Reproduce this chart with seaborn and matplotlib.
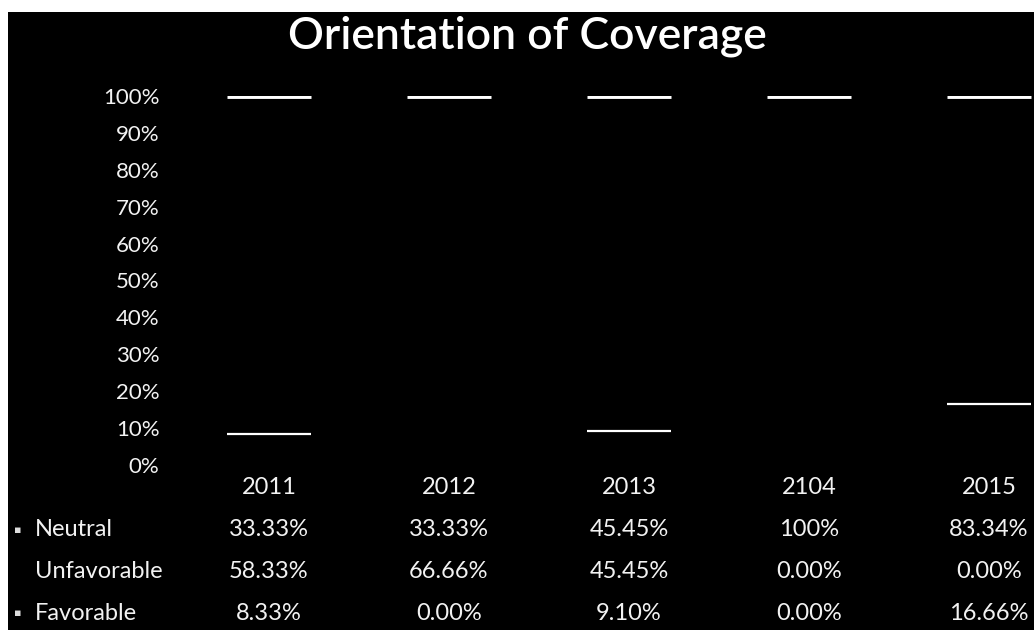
import matplotlib
matplotlib.use("Agg")
import matplotlib.pyplot as plt
import matplotlib.transforms as mtransforms
from matplotlib.patches import Rectangle
import seaborn as sns
import pandas as pd

# ---------------- data ----------------
years = ["2011", "2012", "2013", "2104", "2015"]
neutral = [33.33, 33.33, 45.45, 100.0, 83.34]
unfavorable = [58.33, 66.66, 45.45, 0.0, 0.0]
favorable = [8.33, 0.0, 9.10, 0.0, 16.66]
series_names = ["Neutral", "Unfavorable", "Favorable"]
ytick_values = [0, 10, 20, 30, 40, 50, 60, 70, 80, 90, 100]

sns.set_theme(style="white")
plt.rcParams["font.family"] = ["Lato", "DejaVu Sans"]

W, H = 1034, 630
fig = plt.figure(figsize=(W / 100, H / 100), dpi=100, facecolor="white")
# black panel (white strip on top and left edges as in reference)
fig.add_artist(Rectangle((8 / W, 0), 1, (H - 12) / H, transform=fig.transFigure,
                         facecolor="black", edgecolor="none", zorder=-10))

ax_left, ax_bottom_px, ax_top_px = 179, 465, 96
ax = fig.add_axes([ax_left / W, (H - ax_bottom_px) / H, (W - ax_left) / W,
                   (ax_bottom_px - ax_top_px) / H])
ax.set_facecolor("none")

df = pd.DataFrame({"year": years, "Neutral": neutral,
                   "Unfavorable": unfavorable, "Favorable": favorable})
df["total"] = df["Neutral"] + df["Unfavorable"] + df["Favorable"]
df["fav_unf"] = df["Unfavorable"] + df["Favorable"]

bw = 0.47
sns.barplot(data=df, x="year", y="total", color="black", width=bw, ax=ax,
            saturation=1, edgecolor="none")
sns.barplot(data=df, x="year", y="fav_unf", color="black", width=bw, ax=ax,
            saturation=1, edgecolor="none")
sns.barplot(data=df, x="year", y="Favorable", color="black", width=bw, ax=ax,
            saturation=1, edgecolor="none")

# white segment top borders derived from bar patches
for patch in ax.containers[0].patches:
    x0 = patch.get_x()
    ax.hlines(patch.get_height(), x0, x0 + patch.get_width(), color="white",
              lw=3.5, zorder=5)
for patch, v in zip(ax.containers[2].patches, favorable):
    if v > 0:
        x0 = patch.get_x()
        ax.hlines(patch.get_height(), x0, x0 + patch.get_width(), color="white",
                  lw=1.6, zorder=5)

ax.set_ylim(0, 100)
ax.set_xlim(-0.5, 4.25)
ax.set_yticks(ytick_values)
ax.set_yticklabels([f"{v}%" for v in ytick_values], color="#f2f2f2",
                   fontsize=16, fontweight="normal")
ax.tick_params(axis="y", length=0, pad=14)
ax.set_xticks([])
ax.set_xlabel("")
ax.set_ylabel("")
for s in ax.spines.values():
    s.set_visible(False)

fig.text(0.510, 1 - 36 / H, "Orientation of Coverage", ha="center", va="center",
         color="white", fontsize=32, fontweight="semibold")

# data table under the chart
def ay(px):
    return (ax_bottom_px - px) / (ax_bottom_px - ax_top_px)

trans_cell = mtransforms.blended_transform_factory(ax.transData, ax.transAxes)
trans_lbl = mtransforms.blended_transform_factory(fig.transFigure, ax.transAxes)

txt_kw = dict(color="#f2f2f2", fontsize=17, fontweight="normal", clip_on=False)

for i, yr in enumerate(years):
    ax.text(i, ay(488), yr, transform=trans_cell, ha="center", va="center",
            **txt_kw)

def fmt(v):
    return "100%" if v == 100 else f"{v:.2f}%"

rows = [neutral, unfavorable, favorable]
row_y = [530, 572, 613]
markers = ["\u25aa", "", "\u25aa"]
for name, vals, ypx, mk in zip(series_names, rows, row_y, markers):
    ax.text(35 / W, ay(ypx), name, transform=trans_lbl, ha="left", va="center",
            **txt_kw)
    if mk:
        ax.text(14 / W, ay(ypx), mk, transform=trans_lbl, ha="left", va="center",
                color="#dddddd", fontsize=8, family=["DejaVu Sans"], clip_on=False)
    for i, v in enumerate(vals):
        ax.text(i, ay(ypx), fmt(v), transform=trans_cell, ha="center",
                va="center", **txt_kw)

fig.savefig("out.png", dpi=100, facecolor=fig.get_facecolor())
